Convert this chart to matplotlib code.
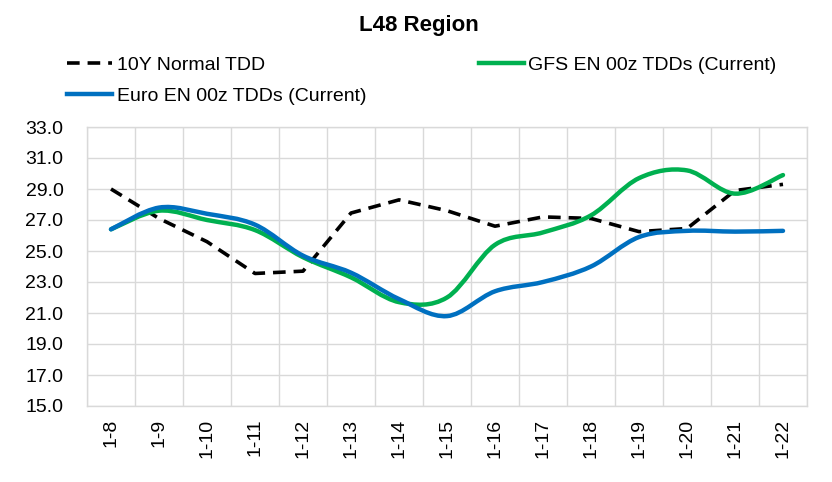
import numpy as np
import matplotlib.pyplot as plt
from matplotlib.path import Path
from matplotlib.patches import PathPatch
from matplotlib.lines import Line2D

plt.rcParams['font.family'] = ['Liberation Sans', 'DejaVu Sans']

# Du lieu doc tu hinh
ngay = ['1-8', '1-9', '1-10', '1-11', '1-12', '1-13', '1-14', '1-15',
        '1-16', '1-17', '1-18', '1-19', '1-20', '1-21', '1-22']
normal_10y = [29.0, 27.1, 25.6, 23.55, 23.7, 27.45, 28.3, 27.6,
              26.6, 27.2, 27.1, 26.25, 26.45, 28.9, 29.3]
gfs_en = [26.4, 27.6, 27.0, 26.35, 24.6, 23.3, 21.7, 22.0,
          25.4, 26.2, 27.3, 29.7, 30.2, 28.7, 29.9]
euro_en = [26.4, 27.8, 27.4, 26.7, 24.7, 23.6, 21.9, 20.8,
           22.4, 23.0, 24.0, 25.9, 26.3, 26.25, 26.3]

mau_xanh_la = '#00B050'
mau_xanh_duong = '#0070C0'
mau_luoi = '#D9D9D9'
kieu_gach = (0, (3.5, 2.2))


# Duong cong muot kieu Excel (Bezier bac 3 qua cac diem)
def DuongCong(x, y):
    p = np.column_stack([x, y]).astype(float)
    n = len(p)
    verts = [p[0]]
    codes = [Path.MOVETO]
    for i in range(n - 1):
        p0 = p[i - 1] if i > 0 else p[i]
        p3 = p[i + 2] if i + 2 < n else p[i + 1]
        c1 = p[i] + (p[i + 1] - p0) / 6
        c2 = p[i + 1] - (p3 - p[i]) / 6
        verts += [c1, c2, p[i + 1]]
        codes += [Path.CURVE4] * 3
    return Path(verts, codes)


fig = plt.figure(figsize=(8.32, 4.82), dpi=100)
ax = fig.add_axes([87 / 832, 1 - 406 / 482, 720 / 832, 279 / 482])

x = np.arange(len(ngay))
# duong 10 nam: doan thang
ax.plot(x, normal_10y, color='black', lw=2.6, linestyle=kieu_gach,
        solid_joinstyle='round', dash_joinstyle='round', zorder=3)
# hai duong du bao: duong cong muot
for y, mau in [(gfs_en, mau_xanh_la), (euro_en, mau_xanh_duong)]:
    ax.add_patch(PathPatch(DuongCong(x, y), fill=False, color=mau, lw=3.2,
                           capstyle='round', joinstyle='round', zorder=3))

ax.set_xlim(-0.5, len(ngay) - 0.5)
ax.set_ylim(15, 33)
ax.set_yticks(np.arange(15, 33.1, 2))
ax.set_yticklabels(['%.1f' % v for v in np.arange(15, 33.1, 2)])
ax.set_xticks(x)
ax.set_xticklabels(ngay, rotation=90)
ax.set_xticks(np.arange(-0.5, len(ngay), 1), minor=True)
ax.grid(True, which='minor', axis='x', color=mau_luoi, lw=1)
ax.grid(True, which='major', axis='y', color=mau_luoi, lw=1)
ax.tick_params(axis='both', which='both', length=0, labelsize=14, colors='black')
ax.tick_params(axis='x', pad=9)
ax.tick_params(axis='y', pad=17)
for s in ax.spines.values():
    s.set_color(mau_luoi)
    s.set_linewidth(1)

fig.text(419 / 832, 1 - 26 / 482, 'L48 Region', ha='center', va='center',
         fontsize=16, fontweight='bold')

handles = [
    Line2D([], [], color='black', lw=2.6, linestyle=kieu_gach),
    Line2D([], [], color=mau_xanh_duong, lw=3.2),
    Line2D([], [], color=mau_xanh_la, lw=3.2),
]
labels = ['10Y Normal TDD', 'Euro EN 00z TDDs (Current)', 'GFS EN 00z TDDs (Current)']
fig.legend(handles, labels, ncol=2, loc='upper left',
           bbox_to_anchor=(67 / 832, 1 - 56 / 482), frameon=False,
           fontsize=14, handlelength=2.3, handletextpad=0.25,
           columnspacing=5.8, labelspacing=0.7, borderpad=0, borderaxespad=0)

fig.savefig('out.png', dpi=100)
